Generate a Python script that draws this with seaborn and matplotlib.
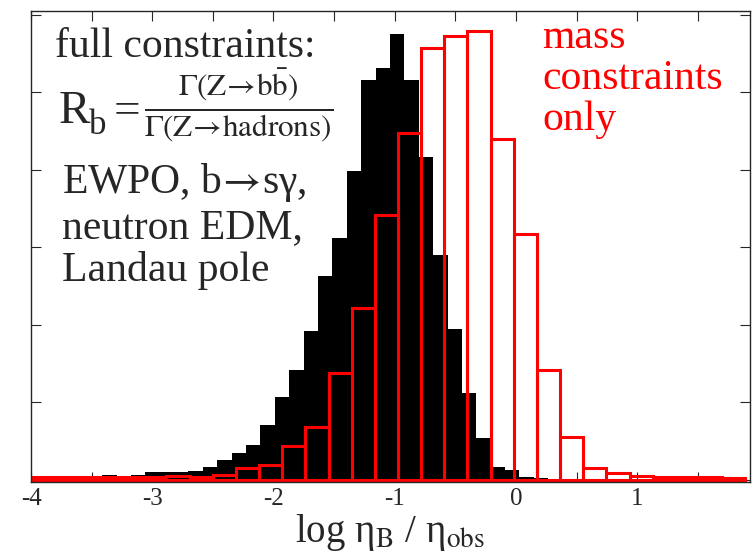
import numpy as np
import pandas as pd
import matplotlib
matplotlib.use('Agg')
import matplotlib.pyplot as plt
import seaborn as sns

# ── data ────────────────────────────────────────────────
# full constraints (black, filled), bin width ~0.119
full_lo, full_width = -4.007, 0.1187
full_heights = [0.04, 0.03, 0.03, 0.03, 0.03, 0.06, 0.04, 0.06, 0.10, 0.10,
                0.10, 0.11, 0.16, 0.25, 0.34, 0.45, 0.70, 1.07, 1.42, 1.92,
                2.63, 3.12, 3.99, 5.16, 5.32, 5.75, 5.16, 4.17, 2.90, 1.95,
                1.12, 0.54, 0.17, 0.12, 0.03, 0.02, 0.01]

# mass constraints only (red, open), bin width ~0.19
mass_lo, mass_width = -4.029, 0.191
mass_heights = [0.03, 0.03, 0.03, 0.03, 0.04, 0.03, 0.05, 0.03, 0.065, 0.15,
                0.19, 0.43, 0.68, 1.38, 2.22, 3.42, 4.47, 5.57, 5.73, 5.79,
                4.40, 3.17, 1.41, 0.55, 0.15, 0.086, 0.05, 0.04, 0.04, 0.035,
                0.02]

x_ticks = [-4, -3, -2, -1, 0, 1]
x_ticklabels = ['-4', '-3', '-2', '-1', '0', '1']

full_edges = full_lo + full_width * np.arange(len(full_heights) + 1)
mass_edges = mass_lo + mass_width * np.arange(len(mass_heights) + 1)
full_df = pd.DataFrame({'x': full_edges[:-1] + full_width / 2, 'w': full_heights})
mass_df = pd.DataFrame({'x': mass_edges[:-1] + mass_width / 2, 'w': mass_heights})

sns.set_style('ticks')
plt.rcParams['font.family'] = ['Liberation Serif', 'DejaVu Serif']
plt.rcParams['mathtext.fontset'] = 'stix'
plt.rcParams['axes.unicode_minus'] = False

fig = plt.figure(figsize=(7.52, 5.54), dpi=100)
ax = fig.add_axes([31/752, (554-482)/554, 719/752, 471/554])

sns.histplot(data=full_df, x='x', weights='w', bins=list(full_edges), ax=ax,
             color='black', alpha=1, linewidth=0, element='bars')
sns.histplot(data=mass_df, x='x', weights='w', bins=list(mass_edges), ax=ax,
             color='red', fill=False, linewidth=2.2, element='bars')

ax.set_xlim(-4, 1.93)
ax.set_ylim(-0.03, 6.05)
ax.set_xticks(x_ticks)
ax.set_xticklabels(x_ticklabels)
ax.set_xticks(np.arange(-3.5, 2, 1.0), minor=True)
ax.set_yticks(range(0, 7))
ax.set_yticklabels([])
ax.tick_params(which='both', direction='in', top=True, right=True,
               length=7, width=0.8, labelsize=18, pad=4)
ax.set_ylabel('')
ax.set_xlabel(r'log η$_{\mathrm{B}}$ / η$_{\mathrm{obs}}$', fontsize=28, labelpad=2)
for s in ax.spines.values():
    s.set_linewidth(1.0)

# ── annotations ─────────────────────────────────────────
tr = ax.transAxes
ax.text(0.033, 0.902, 'full constraints:', transform=tr, fontsize=30, va='baseline')
ax.text(0.038, 0.762, 'R', transform=tr, fontsize=34, va='baseline')
ax.text(0.080, 0.739, 'b', transform=tr, fontsize=25, va='baseline')
ax.text(0.115, 0.762, '=', transform=tr, fontsize=34, va='baseline')
ax.text(0.157, 0.772,
        r'$\frac{\Gamma(\mathrm{Z}\!\rightarrow\!\mathrm{b}\bar{\mathrm{b}})}'
        r'{\Gamma(\mathrm{Z}\!\rightarrow\!\mathrm{hadrons})}$',
        transform=tr, fontsize=32, va='baseline')
ax.text(0.043, 0.614, r'EWPO, b$\!\rightarrow\!$sγ,', transform=tr, fontsize=30, va='baseline')
ax.text(0.043, 0.518, 'neutron EDM,', transform=tr, fontsize=30, va='baseline')
ax.text(0.043, 0.426, 'Landau pole', transform=tr, fontsize=30, va='baseline')

ax.text(0.711, 0.921, 'mass', transform=tr, fontsize=30, va='baseline', color='red')
ax.text(0.711, 0.834, 'constraints', transform=tr, fontsize=30, va='baseline', color='red')
ax.text(0.711, 0.747, 'only', transform=tr, fontsize=30, va='baseline', color='red')

plt.savefig('out.png', dpi=100)
